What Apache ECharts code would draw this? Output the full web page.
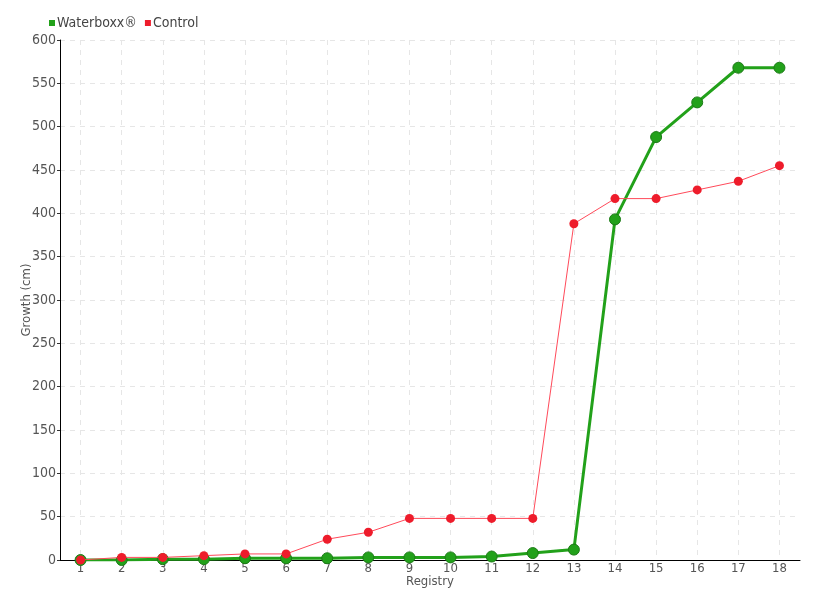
<!DOCTYPE html>
<html><head><meta charset="utf-8">
<script src="https://cdn.jsdelivr.net/npm/echarts@6/dist/echarts.min.js"></script>
<style>html,body{margin:0;padding:0;background:#fff}#c{width:820px;height:600px}</style>
</head><body><div id="c"></div>
<script>
const categories = ['1','2','3','4','5','6','7','8','9','10','11','12','13','14','15','16','17','18'];
const waterboxx = [0,0,1,1,2,2,2,3,3,3,4,8,12,393,488,528,568,568];
const control = [0,3,3,5,7,7,24,32,48,48,48,48,388,417,417,427,437,455];
const yTicks = [0,50,100,150,200,250,300,350,400,450,500,550,600];

const font = '"DejaVu Sans Condensed", "Liberation Sans Narrow", sans-serif';
const chart = echarts.init(document.getElementById('c'), null, {renderer:'canvas'});
chart.setOption({
  animation:false,
  textStyle:{fontFamily:font},
  legend:{
    left:44, top:11, itemWidth:6, itemHeight:6, itemGap:8,
    icon:'rect',
    itemStyle:{borderWidth:0},
    textStyle:{color:'#444', fontSize:14, fontFamily:font, padding:[0,0,0,-3]},
    data:['Waterboxx®','Control']
  },
  grid:{left:60, right:20, top:40, bottom:40},
  xAxis:{
    type:'category', data:categories, boundaryGap:true,
    name:'Registry', nameLocation:'middle', nameGap:15, nameMoveOverlap:false,
    nameTextStyle:{color:'#555', fontSize:13, fontFamily:font},
    axisLine:{lineStyle:{color:'#000', width:1}},
    axisTick:{alignWithLabel:true, length:3, lineStyle:{color:'#333'}},
    axisLabel:{color:'#555', fontSize:13, margin:2, fontFamily:font},
    splitLine:{show:true, alignWithLabel:true, lineStyle:{color:'#e6e6e6', type:[5,5]}}
  },
  yAxis:{
    type:'value', min:yTicks[0], max:yTicks[yTicks.length-1], interval:50,
    name:'Growth (cm)', nameLocation:'middle', nameGap:27, nameMoveOverlap:false,
    nameTextStyle:{color:'#555', fontSize:13, fontFamily:font},
    axisLine:{show:true, lineStyle:{color:'#000', width:1}},
    axisTick:{show:true, length:3, lineStyle:{color:'#333'}},
    axisLabel:{color:'#555', fontSize:14, margin:4, fontFamily:font},
    splitLine:{show:true, lineStyle:{color:'#e6e6e6', type:[5,5]}}
  },
  series:[
    {name:'Waterboxx®', type:'line', data:waterboxx, symbol:'circle', symbolSize:11,
     itemStyle:{color:'#22a11a', borderColor:'#1c7a16', borderWidth:1},
     lineStyle:{color:'#22a11a', width:3}, z:3},
    {name:'Control', type:'line', data:control, symbol:'circle', symbolSize:9,
     itemStyle:{color:'#ee1c2b', borderWidth:0},
     lineStyle:{color:'#ff4a5a', width:1}, z:4}
  ]
});
</script></body></html>
